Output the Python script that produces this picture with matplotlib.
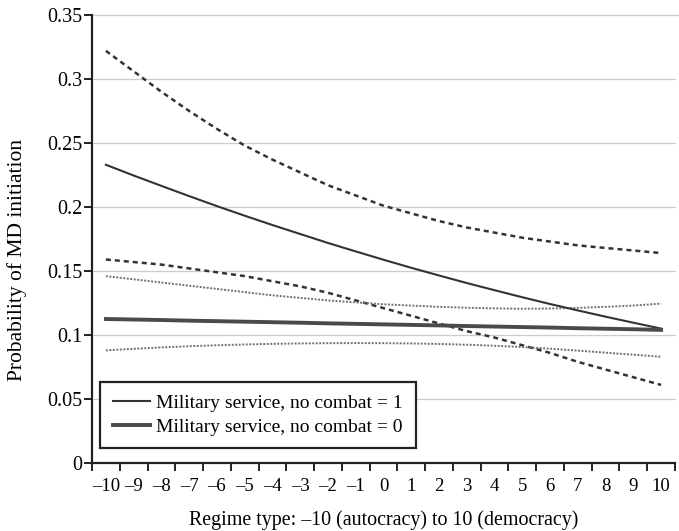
import matplotlib
matplotlib.use("Agg")
import matplotlib.pyplot as plt
from matplotlib.ticker import FixedLocator, NullFormatter

regime = list(range(-10, 11))

# Military service, no combat = 1
s1_mean = [0.2330, 0.2246, 0.2165, 0.2085, 0.2007, 0.1932, 0.1859, 0.1789, 0.1719, 0.1653,
           0.1588, 0.1525, 0.1465, 0.1406, 0.1350, 0.1295, 0.1242, 0.1192, 0.1143, 0.1096, 0.1050]
s1_upper = [0.322, 0.306, 0.290, 0.275, 0.261, 0.248, 0.237, 0.227, 0.217, 0.209,
            0.201, 0.195, 0.189, 0.184, 0.180, 0.176, 0.173, 0.170, 0.168, 0.166, 0.164]
s1_lower = [0.159, 0.157, 0.155, 0.152, 0.149, 0.146, 0.142, 0.138, 0.133, 0.127,
            0.121, 0.115, 0.109, 0.103, 0.098, 0.092, 0.086, 0.079, 0.073, 0.067, 0.061]

# Military service, no combat = 0
s0_mean = [0.1125, 0.1121, 0.1117, 0.1112, 0.1108, 0.1104, 0.1100, 0.1096, 0.1091, 0.1087,
           0.1083, 0.1079, 0.1075, 0.1070, 0.1066, 0.1062, 0.1058, 0.1053, 0.1049, 0.1045, 0.1040]
s0_upper = [0.1460, 0.1435, 0.1410, 0.1385, 0.1360, 0.1335, 0.1310, 0.1290, 0.1270, 0.1255,
            0.1240, 0.1230, 0.1220, 0.1213, 0.1208, 0.1205, 0.1207, 0.1212, 0.1220, 0.1230, 0.1245]
s0_lower = [0.0880, 0.0892, 0.0903, 0.0912, 0.0920, 0.0926, 0.0931, 0.0934, 0.0936, 0.0937,
            0.0936, 0.0934, 0.0930, 0.0924, 0.0916, 0.0906, 0.0893, 0.0878, 0.0862, 0.0846, 0.0830]

y_ticks = [0, 0.05, 0.1, 0.15, 0.2, 0.25, 0.3, 0.35]
y_tick_labels = ["0", "0.05", "0.1", "0.15", "0.2", "0.25", "0.3", "0.35"]
x_tick_labels = ["\u2013" + str(-v) if v < 0 else str(v) for v in regime]

legend_labels = ["Military service, no combat = 1", "Military service, no combat = 0"]
x_label = "Regime type: \u201310 (autocracy) to 10 (democracy)"
y_label = "Probability of MD initiation"

plt.rcParams["font.family"] = ["Liberation Serif", "DejaVu Serif"]

fig = plt.figure(figsize=(6.79, 5.31), dpi=100)
ax = fig.add_axes([92 / 679, 68 / 531, 583 / 679, 448 / 531])

ax.set_xlim(-10.5, 10.5)
ax.set_ylim(0, 0.35)

for v in y_ticks[1:]:
    ax.axhline(v, color="#cccccc", lw=0.9, zorder=0, clip_on=False)
ax.plot([10.5, 10.5 + 4 / 27.7], [0.35, 0.35], color="#cccccc", lw=0.9, clip_on=False)

dark = "#333333"
ax.plot(regime, s1_upper, color=dark, lw=1.8, linestyle=(0, (2, 1.6)))
ax.plot(regime, s1_lower, color=dark, lw=1.8, linestyle=(0, (2, 1.6)))
ax.plot(regime, s0_upper, color="#707070", lw=1.4, linestyle=(0, (1, 0.8)))
ax.plot(regime, s0_lower, color="#707070", lw=1.4, linestyle=(0, (1, 0.8)))
h1, = ax.plot(regime, s1_mean, color=dark, lw=1.5)
h0, = ax.plot(regime, s0_mean, color="#4a4a4a", lw=2.8)

ax.spines["top"].set_visible(False)
ax.spines["right"].set_visible(False)
for s in ("left", "bottom"):
    ax.spines[s].set_linewidth(1.6)
    ax.spines[s].set_color("#222222")

ax.set_yticks(y_ticks)
ax.set_yticklabels(y_tick_labels, fontsize=14.5)
ax.tick_params(axis="y", direction="out", length=6, width=1.4, color="#222222", pad=1)

ax.set_xticks(regime)
ax.set_xticklabels(x_tick_labels, fontsize=13.5)
ax.tick_params(axis="x", which="major", length=0, pad=11)
ax.xaxis.set_minor_locator(FixedLocator([v + 0.5 for v in [-11] + regime]))
ax.xaxis.set_minor_formatter(NullFormatter())
ax.tick_params(axis="x", which="minor", direction="out", length=6, width=1.4, color="#222222")

ax.set_xlabel(x_label, fontsize=14.4, labelpad=11)
ax.set_ylabel(y_label, fontsize=15.5)
ax.yaxis.set_label_coords(-0.112, 0.453)

leg = ax.legend([h1, h0], legend_labels, loc="lower left", bbox_to_anchor=(0.0137, 0.033),
                fontsize=14, frameon=True, fancybox=False, handlelength=1.9,
                handletextpad=0.35, borderpad=0.65, labelspacing=0.3, borderaxespad=0)
leg.get_frame().set_edgecolor("#222222")
leg.get_frame().set_linewidth(1.6)
leg.get_frame().set_alpha(1)

fig.savefig("out.png", dpi=100)
